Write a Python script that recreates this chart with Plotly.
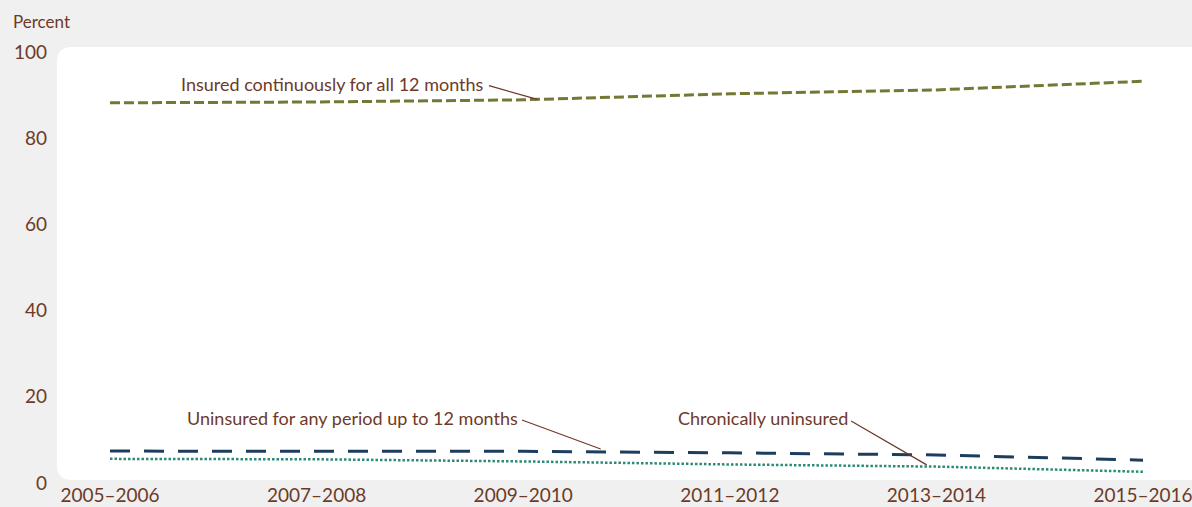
import plotly.graph_objects as go

periods = ["2005–2006", "2007–2008", "2009–2010", "2011–2012", "2013–2014", "2015–2016"]
insured_all_year = [88.2, 88.4, 88.9, 90.3, 91.2, 93.2]
uninsured_part_year = [7.4, 7.4, 7.35, 7.0, 6.5, 5.3]
chronically_uninsured = [5.6, 5.5, 5.0, 4.3, 3.8, 2.6]
y_ticks = [0, 20, 40, 60, 80, 100]

TEXT = "#6e3a28"
BG = "#eff0ef"
FONT = "Lato"

fig = go.Figure()
fig.add_trace(go.Scatter(x=periods, y=insured_all_year, mode="lines",
                         line=dict(color="#747834", width=3, dash="10px,4px"),
                         name="Insured continuously for all 12 months"))
fig.add_trace(go.Scatter(x=periods, y=uninsured_part_year, mode="lines",
                         line=dict(color="#1d3d5e", width=3, dash="20px,14px"),
                         name="Uninsured for any period up to 12 months"))
fig.add_trace(go.Scatter(x=periods, y=chronically_uninsured, mode="lines",
                         line=dict(color="#2a8a76", width=2.5, dash="2.5px,2px"),
                         name="Chronically uninsured"))

# white rounded plotting panel (paper coords)
x0, x1 = 0.0, 1.0
y0, y1 = 0.0157, 0.9843
rx, ry = 0.0132, 0.0336
path = (f"M {x0+rx},{y1} L {x1},{y1} L {x1},{y0} L {x0+rx},{y0} "
        f"Q {x0},{y0} {x0},{y0+ry} L {x0},{y1-ry} Q {x0},{y1} {x0+rx},{y1} Z")
fig.add_shape(type="path", path=path, xref="paper", yref="paper",
              fillcolor="white", line=dict(width=0), layer="below")

# leader lines
leaders = [
    (1.834, 92.2, 2.068, 89.0),
    (1.994, 14.6, 2.375, 7.9),
    (3.587, 14.4, 3.953, 4.2),
]
for ax0, ay0, ax1, ay1 in leaders:
    fig.add_shape(type="line", x0=ax0, y0=ay0, x1=ax1, y1=ay1, xref="x", yref="y",
                  line=dict(color=TEXT, width=1.2))

labels = [
    ("Insured continuously for all 12 months", 1.82, 92.6),
    ("Uninsured for any period up to 12 months", 1.985, 15.0),
    ("Chronically uninsured", 3.58, 15.0),
]
for text, lx, ly in labels:
    fig.add_annotation(x=lx, y=ly, xref="x", yref="y", text=text, showarrow=False,
                       xanchor="right", yanchor="middle",
                       font=dict(family=FONT, size=18, color=TEXT))

fig.add_annotation(x=-0.0405, y=1.0425, xref="paper", yref="paper", text="Percent",
                   showarrow=False, xanchor="left", yanchor="middle",
                   font=dict(family=FONT, size=17, color=TEXT))

fig.update_layout(
    width=1192, height=507,
    margin=dict(l=57, r=0, t=40, b=20),
    paper_bgcolor=BG, plot_bgcolor="rgba(0,0,0,0)",
    showlegend=False,
    font=dict(family=FONT, size=18, color=TEXT),
)
fig.update_xaxes(type="category", range=[-0.2565, 5.237], showgrid=False, zeroline=False,
                 showline=False, ticks="", automargin=False, ticklabelstandoff=-5,
                 tickfont=dict(family=FONT, size=19, color=TEXT))
fig.update_yaxes(range=[-0.93, 102.78], tickvals=y_ticks, showgrid=False, zeroline=False,
                 showline=False, ticks="", ticklabelstandoff=9, automargin=False,
                 tickfont=dict(family=FONT, size=19, color=TEXT))

fig.write_html("out.html", config={"displayModeBar": False},
               post_script="document.body.style.margin='0';document.body.style.background='#eff0ef';")
